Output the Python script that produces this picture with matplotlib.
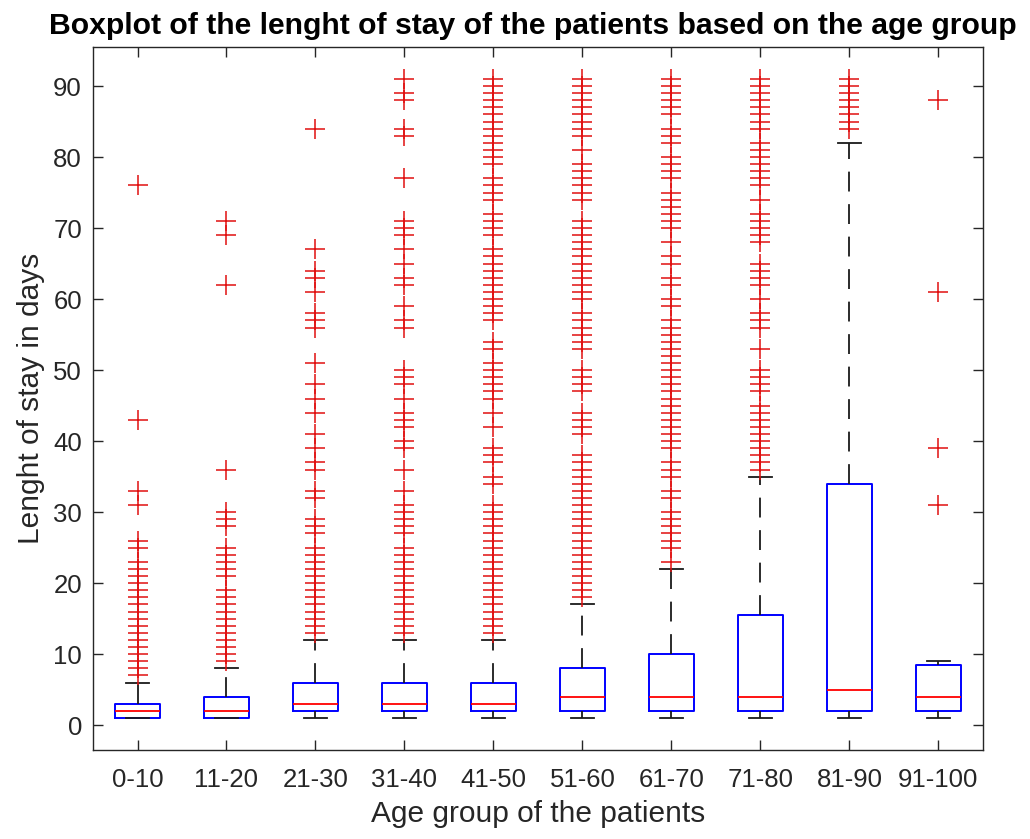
import matplotlib
matplotlib.use("Agg")
import matplotlib.pyplot as plt

plt.rcParams["font.family"] = ["Liberation Sans", "DejaVu Sans"]

# age groups and box statistics (days)
groups = ["0-10", "11-20", "21-30", "31-40", "41-50",
          "51-60", "61-70", "71-80", "81-90", "91-100"]
q1 = [1, 1, 2, 2, 2, 2, 2, 2, 2, 2]
median = [2, 2, 3, 3, 3, 4, 4, 4, 5, 4]
q3 = [3, 4, 6, 6, 6, 8, 10, 15.5, 34, 8.5]
whisker_low = [1, 1, 1, 1, 1, 1, 1, 1, 1, 1]
whisker_high = [6, 8, 12, 12, 12, 17, 22, 35, 82, 9]

# outliers
out_0_10 = [7, 8, 9, 10, 11, 12, 13, 14, 15, 16, 17, 18, 19, 20, 21, 22, 23,
            25, 26, 31, 33, 43, 76]
out_11_20 = [9, 10, 11, 12, 13, 14, 15, 16, 17, 18, 19, 21, 22, 23, 24, 25,
             28, 29, 30, 36, 62, 69, 71]
out_21_30 = [13, 14, 15, 16, 17, 18, 19, 20, 21, 22, 23, 24, 25, 27, 28, 29,
             32, 33, 36, 37, 39, 41, 44, 46, 48, 51, 56, 57, 58, 61, 63, 64,
             67, 84]
out_31_40 = [13, 14, 15, 16, 17, 18, 19, 20, 21, 22, 23, 24, 25, 27, 28, 29,
             30, 31, 33, 36, 39, 40, 42, 43, 44, 46, 48, 49, 50, 56, 57, 59,
             62, 63, 65, 67, 69, 70, 71, 77, 83, 84, 88, 89, 91]
out_41_50 = [13, 14, 15, 16, 17, 18, 19, 20, 21, 22, 23, 24, 25, 26, 27, 28,
             29, 30, 31, 34, 35, 37, 38, 39, 42, 44, 46, 47, 48, 49, 50, 51,
             53, 54, 57, 58, 59, 60, 61, 62, 63, 64, 65, 66, 67, 69, 70, 71,
             72, 74, 75, 76, 77, 79, 80, 81, 82, 83, 84, 85, 86, 87, 88, 89,
             90, 91]
out_51_60 = [18, 19, 20, 21, 22, 23, 24, 25, 26, 27, 28, 29, 30, 31, 32, 33,
             34, 35, 36, 37, 38, 41, 42, 43, 44, 47, 48, 49, 50, 53, 54, 55,
             56, 57, 58, 60, 61, 62, 63, 64, 65, 66, 67, 68, 69, 70, 71, 74,
             75, 76, 77, 78, 79, 81, 83, 84, 85, 86, 87, 88, 89, 90, 91]
out_61_70 = [23, 25, 26, 27, 28, 29, 30, 32, 33, 35, 36, 37, 39, 40, 41, 42,
             43, 44, 45, 46, 47, 48, 49, 50, 51, 52, 53, 54, 55, 56, 57, 59,
             60, 62, 63, 65, 66, 68, 70, 71, 72, 73, 74, 75, 77, 78, 79, 80,
             82, 83, 84, 86, 87, 88, 89, 90, 91]
out_71_80 = [36, 37, 38, 39, 40, 41, 42, 43, 44, 45, 47, 48, 49, 50, 53, 56,
             57, 58, 60, 62, 63, 64, 65, 68, 69, 70, 71, 72, 74, 76, 77, 78,
             79, 80, 81, 82, 84, 85, 86, 87, 88, 89, 90, 91]
out_81_90 = [84, 85, 86, 87, 88, 89, 90, 91]
out_91_100 = [31, 39, 61, 88]
outliers = [out_0_10, out_11_20, out_21_30, out_31_40, out_41_50,
            out_51_60, out_61_70, out_71_80, out_81_90, out_91_100]

stats = []
for i, name in enumerate(groups):
    stats.append({
        "label": name, "q1": q1[i], "med": median[i], "q3": q3[i],
        "whislo": whisker_low[i], "whishi": whisker_high[i],
        "fliers": outliers[i],
    })

fig = plt.figure(figsize=(10.30, 8.39), dpi=100)
ax = fig.add_axes([0.0903, 0.106, 0.8640, 0.838])

ax.bxp(
    stats,
    positions=range(1, len(groups) + 1),
    widths=0.5,
    capwidths=0.25,
    boxprops=dict(color="blue", linewidth=1.4),
    medianprops=dict(color="red", linewidth=1.3),
    whiskerprops=dict(color="#1a1a1a", linewidth=1.3, linestyle=(0, (11, 7))),
    capprops=dict(color="#1a1a1a", linewidth=1.3),
    flierprops=dict(marker="+", markeredgecolor="#e01010", markersize=14,
                    markeredgewidth=1.1, linestyle="none"),
)

ax.set_xlim(0.5, 10.5)
ax.set_ylim(-3.5, 95.5)
ax.set_yticks(range(0, 91, 10))
ax.set_xticks(range(1, len(groups) + 1))
ax.set_xticklabels(groups)

gray = "#262626"
ax.tick_params(direction="in", length=7, width=1, colors=gray,
               labelsize=18.5, top=True, right=True)
ax.tick_params(axis="x", pad=13)
ax.tick_params(axis="y", pad=8)
for s in ax.spines.values():
    s.set_color(gray)
    s.set_linewidth(1.0)

ax.set_xlabel("Age group of the patients", fontsize=21.5, color=gray,
              labelpad=6)
ax.set_ylabel("Lenght of stay in days", fontsize=21.5, color=gray,
              labelpad=6)
ax.set_title("Boxplot of the lenght of stay of the patients based on the age group",
             fontsize=21.7, fontweight="bold", color="black", pad=9, x=0.494)

fig.savefig("out.png", dpi=100)
